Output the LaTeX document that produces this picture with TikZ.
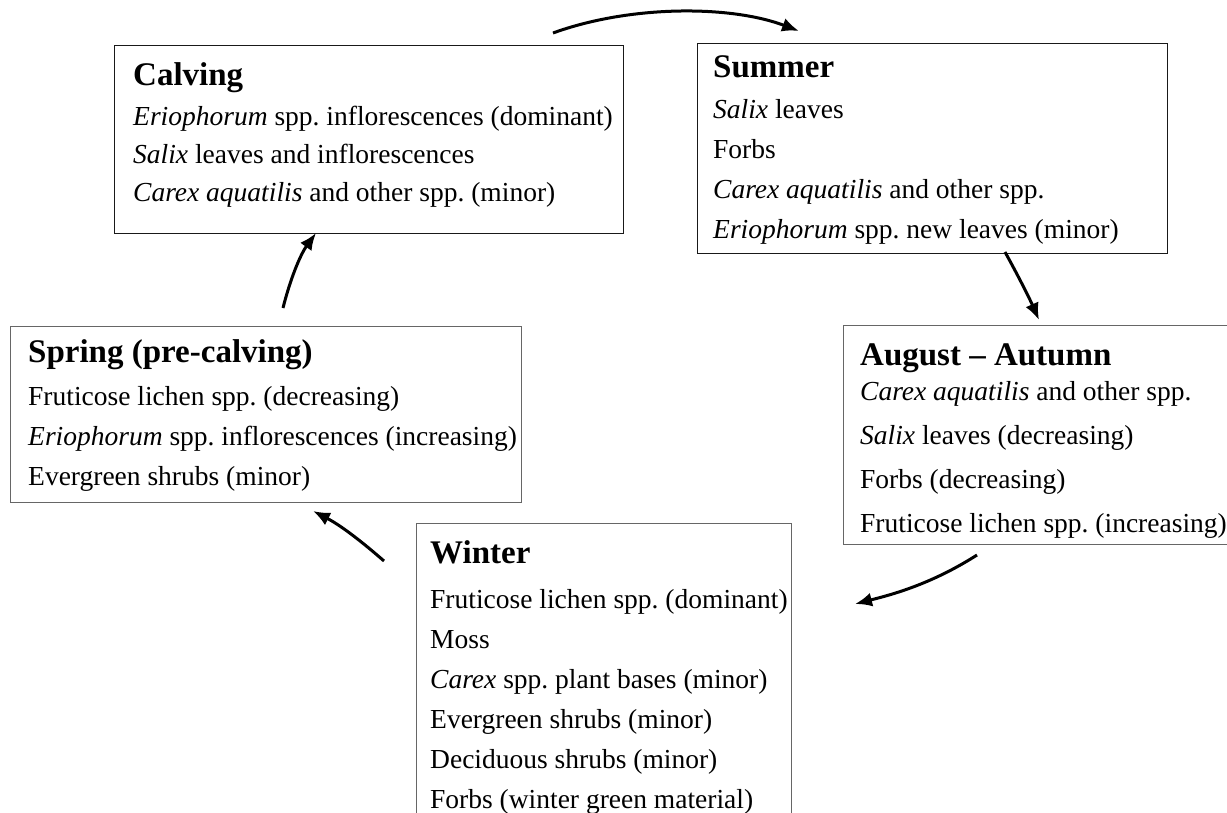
\documentclass[tikz,border=0pt]{standalone}
\usepackage{fontspec}
\setmainfont{Liberation Serif}
\usetikzlibrary{arrows.meta}
\frenchspacing
\newcommand{\bodyfont}{\fontsize{27.5}{33}\selectfont}
\newcommand{\headfont}{\fontsize{33}{38}\selectfont\bfseries}
\begin{document}
\begin{tikzpicture}[x=1pt,y=-1pt,
  box/.style={draw=black!60,line width=1.3pt,rectangle,inner sep=0pt,anchor=north west},
  darkbox/.style={box,draw=black!90},
  txt/.style={anchor=base west,inner sep=0pt,font=\bodyfont},
  head/.style={anchor=base west,inner sep=0pt,font=\headfont},
  arr/.style={line width=3pt,-{Latex[length=17pt,width=14pt]}}]
\useasboundingbox (0,0) rectangle (1227,812);
% boxes
\node[darkbox,minimum width=509pt,minimum height=188pt] (calving) at (114,45) {};
\node[darkbox,minimum width=470pt,minimum height=210pt] (summer) at (697,43) {};
\node[box,minimum width=511pt,minimum height=176pt] (spring) at (10,326) {};
\node[box,minimum width=420pt,minimum height=219pt] (august) at (843,325) {};
\node[box,minimum width=375pt,minimum height=320pt] (winter) at (416,523) {};
% Calving
\node[head] (c0) at (133,85) {Calving};
\node[txt] (c1) at (133,125) {\textit{Eriophorum} spp. inflorescences (dominant)};
\node[txt] (c2) at (133,163) {\textit{Salix} leaves and inflorescences};
\node[txt] (c3) at (133,201) {\textit{Carex aquatilis} and other spp. (minor)};
% Summer
\node[head] (s0) at (713,77) {Summer};
\node[txt] (s1) at (713,118) {\textit{Salix} leaves};
\node[txt] (s2) at (713,158) {Forbs};
\node[txt] (s3) at (713,198) {\textit{Carex aquatilis} and other spp.};
\node[txt] (s4) at (713,238) {\textit{Eriophorum} spp. new leaves (minor)};
% Spring
\node[head] (p0) at (28,362) {Spring (pre-calving)};
\node[txt] (p1) at (28,405) {Fruticose lichen spp. (decreasing)};
\node[txt] (p2) at (28,445) {\textit{Eriophorum} spp. inflorescences (increasing)};
\node[txt] (p3) at (28,485) {Evergreen shrubs (minor)};
% August
\node[head] (a0) at (860,365) {August -- Autumn};
\node[txt] (a1) at (860,400) {\textit{Carex aquatilis} and other spp.};
\node[txt] (a2) at (860,444) {\textit{Salix} leaves (decreasing)};
\node[txt] (a3) at (860,488) {Forbs (decreasing)};
\node[txt] (a4) at (860,532) {Fruticose lichen spp. (increasing)};
% Winter
\node[head] (w0) at (430,563) {Winter};
\node[txt] (w1) at (430,608) {Fruticose lichen spp. (dominant)};
\node[txt] (w2) at (430,648) {Moss};
\node[txt] (w3) at (430,688) {\textit{Carex} spp. plant bases (minor)};
\node[txt] (w4) at (430,728) {Evergreen shrubs (minor)};
\node[txt] (w5) at (430,768) {Deciduous shrubs (minor)};
\node[txt] (w6) at (430,808) {Forbs (winter green material)};
% arrow ends
\coordinate (t1a) at (553,33); \coordinate (t1b) at (799,31);
\coordinate (t2a) at (1005,252); \coordinate (t2b) at (1039,320);
\coordinate (t3a) at (977,555); \coordinate (t3b) at (855,604);
\coordinate (t4a) at (384,561); \coordinate (t4b) at (313,511);
\coordinate (t5a) at (283,308); \coordinate (t5b) at (316,233);
\draw[arr] (t1a) .. controls (630,5) and (730,5) .. (t1b);
\draw[arr] (t2a) .. controls (1015,270) and (1028,295) .. (t2b);
\draw[arr] (t3a) .. controls (930,585) and (890,595) .. (t3b);
\draw[arr] (t4a) .. controls (360,540) and (340,525) .. (t4b);
\draw[arr] (t5a) .. controls (290,280) and (300,255) .. (t5b);
\end{tikzpicture}
\end{document}
